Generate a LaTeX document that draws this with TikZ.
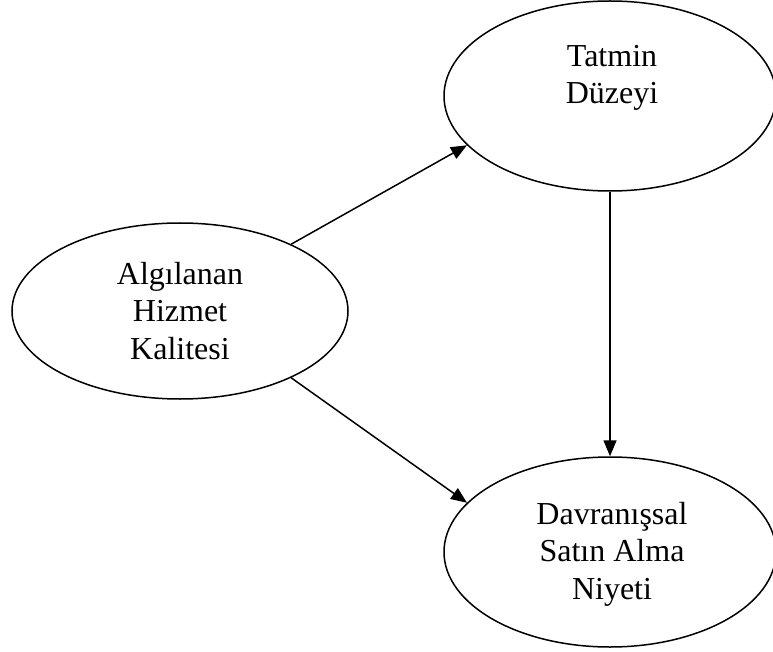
\documentclass[tikz,border=0pt]{standalone}
\usepackage{fontspec}
\setmainfont{Liberation Serif}
\usetikzlibrary{shapes.geometric,arrows.meta}
\begin{document}
\begin{tikzpicture}[x=1pt,y=-1pt,
  oval/.style={draw, ellipse, line width=1.5pt, inner sep=0pt},
  lbl/.style={align=center, inner sep=0pt, font=\fontsize{32}{37.5}\selectfont},
  link/.style={line width=1.5pt, -{Triangle[length=16pt,width=13pt]}}]
  \useasboundingbox (0,0) rectangle (773,652);
  % the three constructs
  \node[oval, minimum width=336pt, minimum height=176pt] (alg) at (180,311) {};
  \node[oval, minimum width=332pt, minimum height=190pt] (tat) at (610,96) {};
  \node[oval, minimum width=332pt, minimum height=190pt] (dav) at (610,552) {};
  % their labels
  \node[lbl] (algL) at (180,311) {Algılanan\\Hizmet\\Kalitesi};
  \node[lbl] (tatL) at (612,78) {Tatmin\\Düzeyi};
  \node[lbl] (davL) at (612,554) {Davranışsal\\Satın Alma\\Niyeti};
  % paths between them
  \draw[link] (alg.31) -- (tat.199);
  \draw[link] (alg.-31) -- (dav.161);
  \draw[link] (tat.south) -- (dav.north);
\end{tikzpicture}
\end{document}
